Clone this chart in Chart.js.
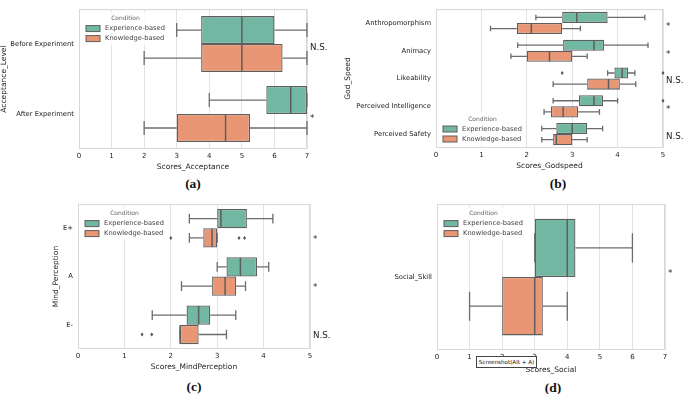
<!DOCTYPE html>
<html>
<head>
<meta charset="utf-8">
<script src="https://cdn.jsdelivr.net/npm/chart.js@4.4.0/dist/chart.umd.min.js"></script>
<style>
  body { margin: 0; background: #fff; width: 685px; height: 394px; position: relative; overflow: hidden; }
  canvas { position: absolute; }
  .cap { position: absolute; font-family: 'Liberation Serif', serif; font-weight: bold; font-size: 13.5px; transform: translate(-50%, -50%); color: #111; }
  #shot { position: absolute; left: 476px; top: 356px; width: 59px; height: 10px; border: 1px solid #444; background: #fff;
          font-family: 'DejaVu Sans', sans-serif; font-size: 5.6px; line-height: 10px; text-align: center; color: #111; white-space: nowrap; }
</style>
</head>
<body>
<canvas id="chartA" width="340" height="172" style="left:0;top:0"></canvas>
<canvas id="chartB" width="345" height="172" style="left:340px;top:0"></canvas>
<canvas id="chartC" width="340" height="177" style="left:0;top:195px"></canvas>
<canvas id="chartD" width="345" height="180" style="left:340px;top:195px"></canvas>
<div class="cap" style="left:193px;top:184px">(a)</div>
<div class="cap" style="left:558px;top:184px">(b)</div>
<div class="cap" style="left:194px;top:387px">(c)</div>
<div class="cap" style="left:553px;top:388px">(d)</div>
<div id="shot">Screenshot(Alt + A)</div>
<script>
// five-number summaries: [low whisker, Q1, median, Q3, high whisker]
const acceptanceLevels = ['Before Experiment', 'After Experiment'];
const acceptanceExp = [[3, 3.75, 5, 6, 7], [4, 5.75, 6.5, 7, 7]];
const acceptanceKnow = [[2, 3.75, 5, 6.25, 7], [2, 3, 4.5, 5.25, 7]];
const acceptanceSig = ['N.S.', '*'];

const godspeedItems = ['Anthropomorphism', 'Animacy', 'Likeability', 'Perceived Intelligence', 'Perceived Safety'];
const godspeedExp = [[2.2, 2.78, 3.1, 3.78, 4.6], [1.8, 2.8, 3.48, 3.7, 4.67], [3.78, 3.93, 4.1, 4.23, 4.38], [2.58, 3.15, 3.48, 3.68, 4.0], [2.33, 2.65, 3.0, 3.33, 3.67]];
const godspeedKnow = [[1.2, 1.78, 2.1, 2.78, 3.18], [1.65, 2.0, 2.5, 3.0, 3.33], [2.58, 3.33, 3.8, 4.05, 4.4], [2.38, 2.53, 2.8, 3.13, 3.6], [2.33, 2.58, 2.65, 3.0, 3.33]];
const godspeedExpOutliers = [[], [], [2.78, 5.0], [5.0], []];
const godspeedKnowOutliers = [[], [], [], [], []];
const godspeedSig = ['*', '*', 'N.S.', '*', 'N.S.'];

const mindLevels = ['E+', 'A', 'E-'];
const mindExp = [[2.4, 3.0, 3.08, 3.64, 4.2], [3.0, 3.2, 3.5, 3.86, 4.11], [1.6, 2.34, 2.6, 2.85, 3.4]];
const mindKnow = [[2.4, 2.7, 2.89, 3.0, 3.0], [2.23, 2.89, 3.17, 3.41, 3.61], [2.2, 2.2, 2.2, 2.6, 3.2]];
const mindExpOutliers = [[], [], []];
const mindKnowOutliers = [[2.0, 3.47, 3.59], [], [1.38, 1.59]];
const mindSig = ['*', '*', 'N.S.'];

const socialLevels = ['Social_Skill'];
const socialExp = [[3, 3, 4, 4.25, 6]];
const socialKnow = [[1, 2, 3, 3.25, 4]];
const socialSig = ['*'];

const expColor = '#71b7a2';
const knowColor = '#e99675';
const edgeGray = '#5e5e5e';
const whiskerGray = '#6c6c6c';
const gridColor = '#e2e2e2';
const font = 'DejaVu Sans';

// whiskers, medians, outliers, frame, legend, significance marks
const boxExtras = {
  id: 'boxExtras',
  beforeDatasetsDraw(chart) {
    const { ctx, chartArea: a } = chart;
    ctx.save();
    ctx.strokeStyle = '#d8d8d8';
    ctx.lineWidth = 1;
    ctx.strokeRect(a.left + 0.5, a.top + 0.5, a.width - 1, a.height - 1);
    ctx.restore();
  },
  afterDatasetsDraw(chart, args, opts) {
    const { ctx, chartArea: a, scales: { x, y } } = chart;
    ctx.save();
    opts.stats.forEach((stats, d) => {
      chart.getDatasetMeta(d).data.forEach((bar, i) => {
        const [lo, q1, med, q3, hi] = stats[i];
        const cy = bar.y, h = bar.height;
        ctx.strokeStyle = whiskerGray;
        ctx.lineWidth = 1.3;
        ctx.beginPath();
        ctx.moveTo(x.getPixelForValue(lo), cy); ctx.lineTo(x.getPixelForValue(q1), cy);
        ctx.moveTo(x.getPixelForValue(q3), cy); ctx.lineTo(x.getPixelForValue(hi), cy);
        [lo, hi].forEach(v => {
          const px = x.getPixelForValue(v);
          ctx.moveTo(px, cy - h / 4); ctx.lineTo(px, cy + h / 4);
        });
        ctx.stroke();
        ctx.strokeStyle = edgeGray;
        ctx.lineWidth = 1.5;
        ctx.beginPath();
        const m = x.getPixelForValue(med);
        ctx.moveTo(m, cy - h / 2 + 0.5); ctx.lineTo(m, cy + h / 2 - 0.5);
        ctx.stroke();
        ctx.fillStyle = '#555';
        (opts.outliers[d][i] || []).forEach(v => {
          const px = x.getPixelForValue(v);
          ctx.beginPath();
          ctx.moveTo(px, cy - 2); ctx.lineTo(px + 1.5, cy); ctx.lineTo(px, cy + 2); ctx.lineTo(px - 1.5, cy);
          ctx.closePath(); ctx.fill();
        });
      });
    });

    // legend
    const lx = a.left;
    const ly = opts.legendBottom ? a.bottom - 38.5 : a.top;
    ctx.fillStyle = 'rgba(255,255,255,0.85)';
    ctx.fillRect(lx + 3, ly + 3, 86, 33);
    ctx.textBaseline = 'middle';
    ctx.textAlign = 'center';
    ctx.fillStyle = '#666';
    ctx.font = '6px "' + font + '"';
    ctx.fillText('Condition', lx + 46.5, ly + 9.7);
    [['Experience-based', expColor, 19.5], ['Knowledge-based', knowColor, 29.5]].forEach(([t, c, dy]) => {
      ctx.fillStyle = c;
      ctx.fillRect(lx + 7, ly + dy - 3, 14, 6);
      ctx.strokeStyle = edgeGray;
      ctx.lineWidth = 1;
      ctx.strokeRect(lx + 7, ly + dy - 3, 14, 6);
      ctx.fillStyle = '#444';
      ctx.textAlign = 'left';
      ctx.font = '6.7px "' + font + '"';
      ctx.fillText(t, lx + 26, ly + dy);
    });

    // significance marks
    ctx.fillStyle = '#222';
    ctx.textAlign = 'left';
    ctx.font = '8.7px "' + font + '"';
    opts.sig.forEach((s, i) => {
      const yy = y.getPixelForValue(i) + opts.sigNudge + (s === '*' ? 1 : 0);
      ctx.fillText(s, a.right + 3, yy);
    });
    ctx.restore();
  }
};

function makeBoxChart(id, o) {
  new Chart(document.getElementById(id), {
    type: 'bar',
    data: {
      labels: o.labels,
      datasets: [
        { label: 'Experience-based', data: o.exp.map(s => [s[1], s[3]]), backgroundColor: expColor,
          borderColor: edgeGray, borderWidth: 1.3, borderSkipped: false, categoryPercentage: 0.8, barPercentage: 1 },
        { label: 'Knowledge-based', data: o.know.map(s => [s[1], s[3]]), backgroundColor: knowColor,
          borderColor: edgeGray, borderWidth: 1.3, borderSkipped: false, categoryPercentage: 0.8, barPercentage: 1 }
      ]
    },
    options: {
      indexAxis: 'y',
      responsive: false,
      animation: false,
      events: [],
      layout: { padding: { top: o.padTop, right: o.padRight, left: 0, bottom: 0 } },
      plugins: {
        legend: { display: false },
        tooltip: { enabled: false },
        boxExtras: { stats: [o.exp, o.know], outliers: [o.expOut, o.knowOut], sig: o.sig,
                     sigNudge: o.sigNudge, legendBottom: o.legendBottom }
      },
      scales: {
        x: {
          min: 0, max: o.max,
          ticks: { stepSize: 1, padding: 3, color: '#222', font: { family: font, size: 7 } },
          grid: { color: gridColor, drawTicks: false },
          border: { display: false },
          title: { display: true, text: o.xTitle, color: '#222', font: { family: font, size: 7.5 },
                   padding: { top: 0, bottom: o.xTitlePad } },
          afterFit: s => { s.height = o.xHeight; }
        },
        y: {
          ticks: { padding: 5, color: '#222', font: { family: font, size: 6.8 } },
          grid: { display: false, drawTicks: false },
          border: { display: false },
          title: { display: !!o.yTitle, text: o.yTitle, color: '#222', font: { family: font, size: 7.5 },
                   padding: { top: o.yTitlePad, bottom: 0 } },
          afterFit: s => { s.width = o.yWidth; }
        }
      }
    },
    plugins: [boxExtras]
  });
}

makeBoxChart('chartA', {
  labels: acceptanceLevels, exp: acceptanceExp, know: acceptanceKnow,
  expOut: [[], []], knowOut: [[], []], sig: acceptanceSig, sigNudge: 4,
  max: 7, xTitle: 'Scores_Acceptance', yTitle: 'Acceptance_Level',
  padTop: 1, padRight: 33, yWidth: 79, xHeight: 23, xTitlePad: 0.5, yTitlePad: 0
});

makeBoxChart('chartB', {
  labels: godspeedItems, exp: godspeedExp, know: godspeedKnow,
  expOut: godspeedExpOutliers, knowOut: godspeedKnowOutliers, sig: godspeedSig, sigNudge: 2.5,
  max: 5, xTitle: 'Scores_Godspeed', yTitle: 'God_Speed', legendBottom: true,
  padTop: 3, padRight: 22, yWidth: 96, xHeight: 24, xTitlePad: 1.5, yTitlePad: 3.5
});

makeBoxChart('chartC', {
  labels: mindLevels, exp: mindExp, know: mindKnow,
  expOut: mindExpOutliers, knowOut: mindKnowOutliers, sig: mindSig, sigNudge: 10.5,
  max: 5, xTitle: 'Scores_MindPerception', yTitle: 'Mind_Perception',
  padTop: 5, padRight: 30, yWidth: 78, xHeight: 23, xTitlePad: 0, yTitlePad: 52
});

makeBoxChart('chartD', {
  labels: socialLevels, exp: socialExp, know: socialKnow,
  expOut: [[]], knowOut: [[]], sig: socialSig, sigNudge: -4,
  max: 7, xTitle: 'Scores_Social', yTitle: '',
  padTop: 7, padRight: 20, yWidth: 97, xHeight: 25, xTitlePad: 0.5, yTitlePad: 0
});
</script>
</body>
</html>
